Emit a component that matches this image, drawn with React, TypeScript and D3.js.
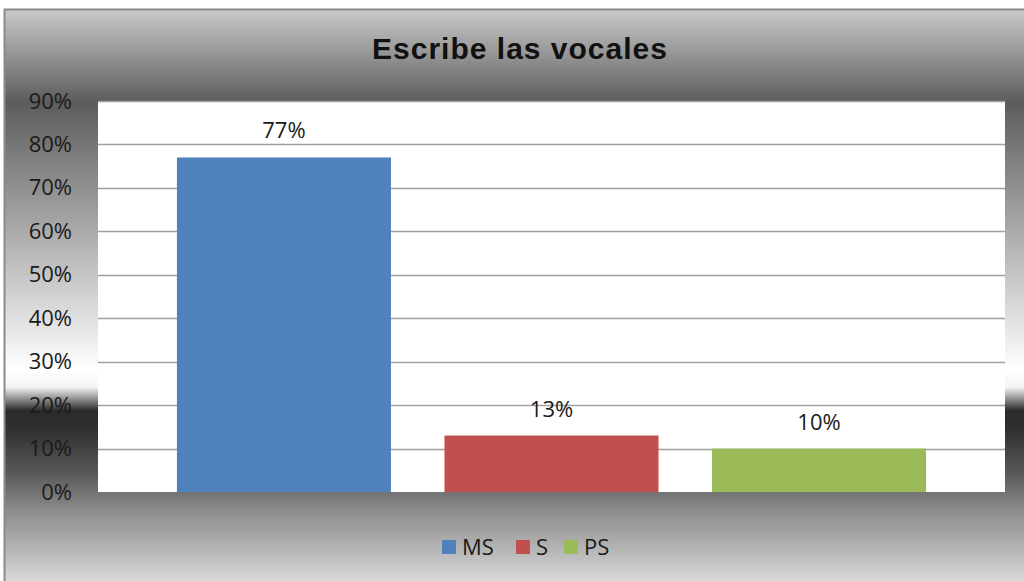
import * as d3 from "d3";
import { useRef, useEffect } from "react";

const title = "Escribe las vocales";
const seriesNames = ["MS", "S", "PS"];
const seriesValues = [0.77, 0.13, 0.10];
const seriesColors = ["#4f81bd", "#c0504d", "#9bbb59"];
const yTicks = [0, 0.1, 0.2, 0.3, 0.4, 0.5, 0.6, 0.7, 0.8, 0.9];

const W = 1024;
const H = 581;

const App = () => {
    const chartRef = useRef(null);

    useEffect(() => {
        const svg = d3.select(chartRef.current);
        svg.selectAll("*").remove();

        const margin = { top: 101, bottom: 89, left: 98, right: 19 };
        const boundWidth = W - margin.left - margin.right;
        const boundHeight = H - margin.top - margin.bottom;

        // background gradient of the chart box
        const defs = svg.append("defs");
        const grad = defs.append("linearGradient")
            .attr("id", "bg")
            .attr("x1", 0).attr("y1", 0).attr("x2", 0).attr("y2", 1);
        const stops = [
            [0, "#cacaca"], [0.16, "#5c5c5c"], [0.62, "#ffffff"], [0.65, "#f4f4f4"],
            [0.69, "#2b2b2b"], [0.72, "#2e2e2e"], [0.8, "#5a5a5a"], [0.86, "#8a8a8a"],
            [1, "#e2e2e2"]
        ];
        grad.selectAll("stop")
            .data(stops)
            .enter()
            .append("stop")
            .attr("offset", d => d[0])
            .attr("stop-color", d => d[1]);

        svg.append("rect")
           .attr("x", 4.5)
           .attr("y", 9.5)
           .attr("width", W)
           .attr("height", H)
           .attr("fill", "url(#bg)")
           .attr("stroke", "#8a8a8a")
           .attr("stroke-width", 2);

        svg.append("text")
           .attr("x", 520)
           .attr("y", 59)
           .attr("text-anchor", "middle")
           .style("font-family", "'Liberation Sans', Arial, sans-serif")
           .style("font-weight", "bold")
           .style("font-size", "30px")
           .style("letter-spacing", "1px")
           .style("fill", "#111")
           .text(title);

        const g = svg.append("g")
           .attr("transform", `translate(${margin.left}, ${margin.top})`);

        g.append("rect")
         .attr("width", boundWidth)
         .attr("height", boundHeight)
         .attr("fill", "#fff");

        const scaleY = d3.scaleLinear()
            .domain([0, 0.9])
            .range([boundHeight, 0]);

        // one category, three series side by side
        const scaleCat = d3.scaleBand()
            .domain([""])
            .range([0, boundWidth])
            .paddingOuter(0.065);
        const scaleX = d3.scaleBand()
            .domain(seriesNames)
            .range([scaleCat("") as number, (scaleCat("") as number) + scaleCat.bandwidth()])
            .paddingInner(0.2)
            .paddingOuter(0.1);

        g.selectAll(".grid")
         .data(yTicks.slice(1))
         .enter()
         .append("line")
         .attr("class", "grid")
         .attr("x1", 0)
         .attr("x2", boundWidth)
         .attr("y1", d => Math.round(scaleY(d)) + 0.5)
         .attr("y2", d => Math.round(scaleY(d)) + 0.5)
         .attr("stroke", "#a0a0a0")
         .attr("stroke-width", 1.5);

        const yAxis = d3.axisLeft(scaleY)
            .tickValues(yTicks)
            .tickFormat(d3.format(".0%"))
            .tickSize(0)
            .tickPadding(26);
        const ya = g.append("g").call(yAxis);
        ya.select(".domain").remove();
        ya.selectAll("text")
          .style("font-family", "'Open Sans', sans-serif")
          .style("font-size", "22px")
          .style("fill", "#1a1a1a");

        g.selectAll(".bar")
         .data(seriesValues)
         .enter()
         .append("rect")
         .attr("class", "bar")
         .attr("x", (d, i) => scaleX(seriesNames[i]))
         .attr("y", d => scaleY(d))
         .attr("width", scaleX.bandwidth())
         .attr("height", d => boundHeight - scaleY(d))
         .attr("fill", (d, i) => seriesColors[i]);

        g.selectAll(".label")
         .data(seriesValues)
         .enter()
         .append("text")
         .attr("class", "label")
         .attr("x", (d, i) => (scaleX(seriesNames[i]) as number) + scaleX.bandwidth() / 2)
         .attr("y", d => scaleY(d) - 19)
         .attr("text-anchor", "middle")
         .style("font-family", "'Open Sans', sans-serif")
         .style("font-size", "22px")
         .style("fill", "#1a1a1a")
         .text(d => d3.format(".0%")(d));

        // legend
        const legend = svg.append("g")
            .attr("transform", "translate(442, 546)");
        const offsets = [0, 74, 122];
        seriesNames.forEach((name, i) => {
            legend.append("rect")
                  .attr("x", offsets[i])
                  .attr("y", -6)
                  .attr("width", 14)
                  .attr("height", 14)
                  .attr("fill", seriesColors[i]);
            legend.append("text")
                  .attr("x", offsets[i] + 20)
                  .attr("y", 9)
                  .style("font-family", "'Open Sans', sans-serif")
                  .style("font-size", "22px")
                  .style("fill", "#1a1a1a")
                  .text(name);
        });
    }, []);

    return (
        <div style={{ position: "fixed", left: 0, top: 0, width: W, height: H, background: "#fff" }}>
            <svg ref={chartRef} width={W} height={H} style={{ display: "block" }}></svg>
        </div>
    );
};

export default App;
